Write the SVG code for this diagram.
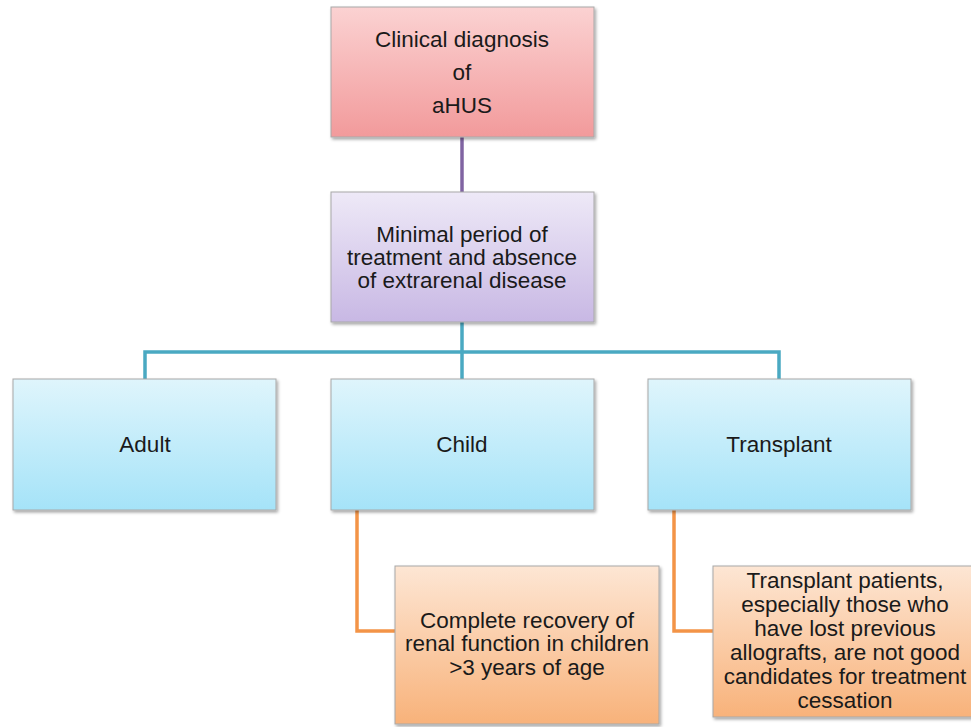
<svg xmlns="http://www.w3.org/2000/svg" width="971" height="727" viewBox="0 0 971 727">
<defs>
<linearGradient id="gRed" x1="0" y1="0" x2="0" y2="1"><stop offset="0" stop-color="#fbd2d2"/><stop offset="1" stop-color="#f29a9b"/></linearGradient>
<linearGradient id="gPur" x1="0" y1="0" x2="0" y2="1"><stop offset="0" stop-color="#eee9f7"/><stop offset="1" stop-color="#c8b8e4"/></linearGradient>
<linearGradient id="gBlu" x1="0" y1="0" x2="0" y2="1"><stop offset="0" stop-color="#dff5fc"/><stop offset="1" stop-color="#a5e3f8"/></linearGradient>
<linearGradient id="gOra" x1="0" y1="0" x2="0" y2="1"><stop offset="0" stop-color="#fde6d4"/><stop offset="1" stop-color="#f8b27a"/></linearGradient>
<filter id="sh" x="-5%" y="-5%" width="112%" height="115%"><feDropShadow dx="1.5" dy="2" stdDeviation="1.5" flood-color="#000" flood-opacity="0.35"/></filter>
</defs>
<style>
.box{stroke:#a8a8a8;stroke-width:1;filter:url(#sh)}
.t{font-family:"Liberation Sans",Arial,sans-serif;font-size:22.5px;fill:#1a1a1a;text-anchor:middle}
.c{fill:none;stroke-width:3.5}
</style>
<g id="connectors">
<path class="c" stroke="#8064a2" d="M462 137V192"/>
<path class="c" stroke="#4aa9c2" d="M462 322V352M145 379V352H779V379M462 352V379"/>
<path class="c" stroke="#f39447" d="M357 510V631H395M674 510V631H713"/>
</g>
<g id="diagnosis"><rect class="box" x="331" y="7" width="263" height="130" fill="url(#gRed)"/>
<text class="t" x="462" y="47">Clinical diagnosis</text><text class="t" x="462" y="80">of</text><text class="t" x="462" y="113">aHUS</text></g>
<g id="minimal"><rect class="box" x="331" y="192" width="263" height="130" fill="url(#gPur)"/>
<text class="t" x="462" y="242">Minimal period of</text><text class="t" x="462" y="265">treatment and absence</text><text class="t" x="462" y="288">of extrarenal disease</text></g>
<g id="adult"><rect class="box" x="13" y="379" width="263" height="131" fill="url(#gBlu)"/>
<text class="t" x="145" y="452">Adult</text></g>
<g id="child"><rect class="box" x="331" y="379" width="263" height="131" fill="url(#gBlu)"/>
<text class="t" x="462" y="452">Child</text></g>
<g id="transplant"><rect class="box" x="648" y="379" width="263" height="131" fill="url(#gBlu)"/>
<text class="t" x="779" y="452">Transplant</text></g>
<g id="recovery"><rect class="box" x="395" y="566" width="264" height="158" fill="url(#gOra)"/>
<text class="t" x="527" y="628">Complete recovery of</text><text class="t" x="527" y="651">renal function in children</text><text class="t" x="527" y="675">&gt;3 years of age</text></g>
<g id="transplant-note"><rect class="box" x="713" y="566" width="260" height="151" fill="url(#gOra)"/>
<text class="t" x="845" y="588">Transplant patients,</text><text class="t" x="845" y="612">especially those who</text><text class="t" x="845" y="636">have lost previous</text><text class="t" x="845" y="660">allografts, are not good</text><text class="t" x="845" y="684">candidates for treatment</text><text class="t" x="845" y="708">cessation</text></g>
</svg>
